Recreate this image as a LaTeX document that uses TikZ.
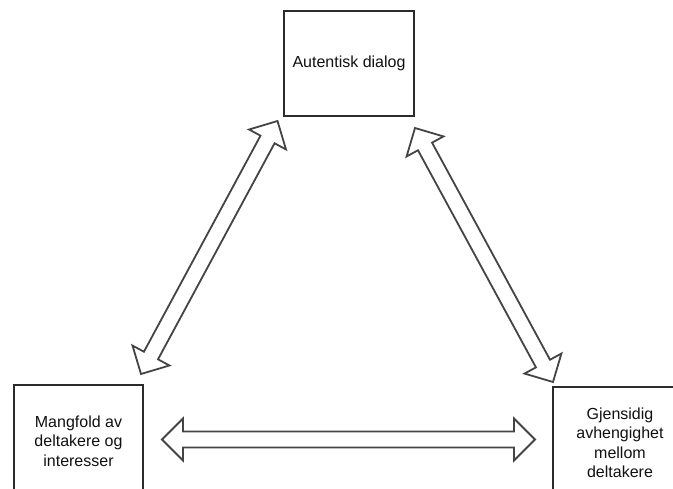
\documentclass[tikz,border=0pt]{standalone}
\usepackage{fontspec}
\setmainfont{Liberation Sans}
\usetikzlibrary{calc}
\definecolor{boxline}{HTML}{2B2B2B}
\definecolor{arrowline}{HTML}{444444}
\definecolor{txt}{HTML}{111111}

% hollow double-headed block arrow between two named points
\newcommand\dblarrow[2]{%
  \coordinate (ha) at ($(#1)!21pt!(#2)$);
  \coordinate (hb) at ($(#2)!21pt!(#1)$);
  \draw[blockarrow] (#1)
    -- ($(ha)!21pt!90:(#2)$) -- ($(ha)!8pt!90:(#2)$)
    -- ($(hb)!8pt!-90:(#1)$) -- ($(hb)!21pt!-90:(#1)$)
    -- (#2)
    -- ($(hb)!21pt!90:(#1)$) -- ($(hb)!8pt!90:(#1)$)
    -- ($(ha)!8pt!-90:(#2)$) -- ($(ha)!21pt!-90:(#2)$)
    -- cycle;}

\begin{document}
\begin{tikzpicture}[x=1pt,y=-1pt,
  box/.style={draw=boxline, line width=2.4pt, fill=white, inner sep=0pt,
    align=center, text=txt, font=\fontsize{16}{19.5}\selectfont},
  blockarrow/.style={draw=arrowline, line width=1.8pt, fill=white,
    line join=miter}]
\useasboundingbox (0,0) rectangle (673,488);

% the three concepts
\node[box, minimum width=130pt, minimum height=105pt] (dialog) at (349,63.5)
  {Autentisk dialog};
\node[box, minimum width=129pt, minimum height=112pt] (mangfold) at (78.5,441)
  {Mangfold av\\deltakere og\\interesser};
\node[box, minimum width=134pt, minimum height=112pt] (gjensidig) at (620,443)
  {Gjensidig\\avhengighet\\mellom\\deltakere};

% arrow end points next to the boxes
\coordinate (l1) at (141,374);
\coordinate (l2) at (277.5,121);
\coordinate (r1) at (415,128);
\coordinate (r2) at (553,382);
\coordinate (b1) at (162,439.5);
\coordinate (b2) at (535,439.5);

\dblarrow{l1}{l2}
\dblarrow{r1}{r2}
\dblarrow{b1}{b2}
\end{tikzpicture}
\end{document}
